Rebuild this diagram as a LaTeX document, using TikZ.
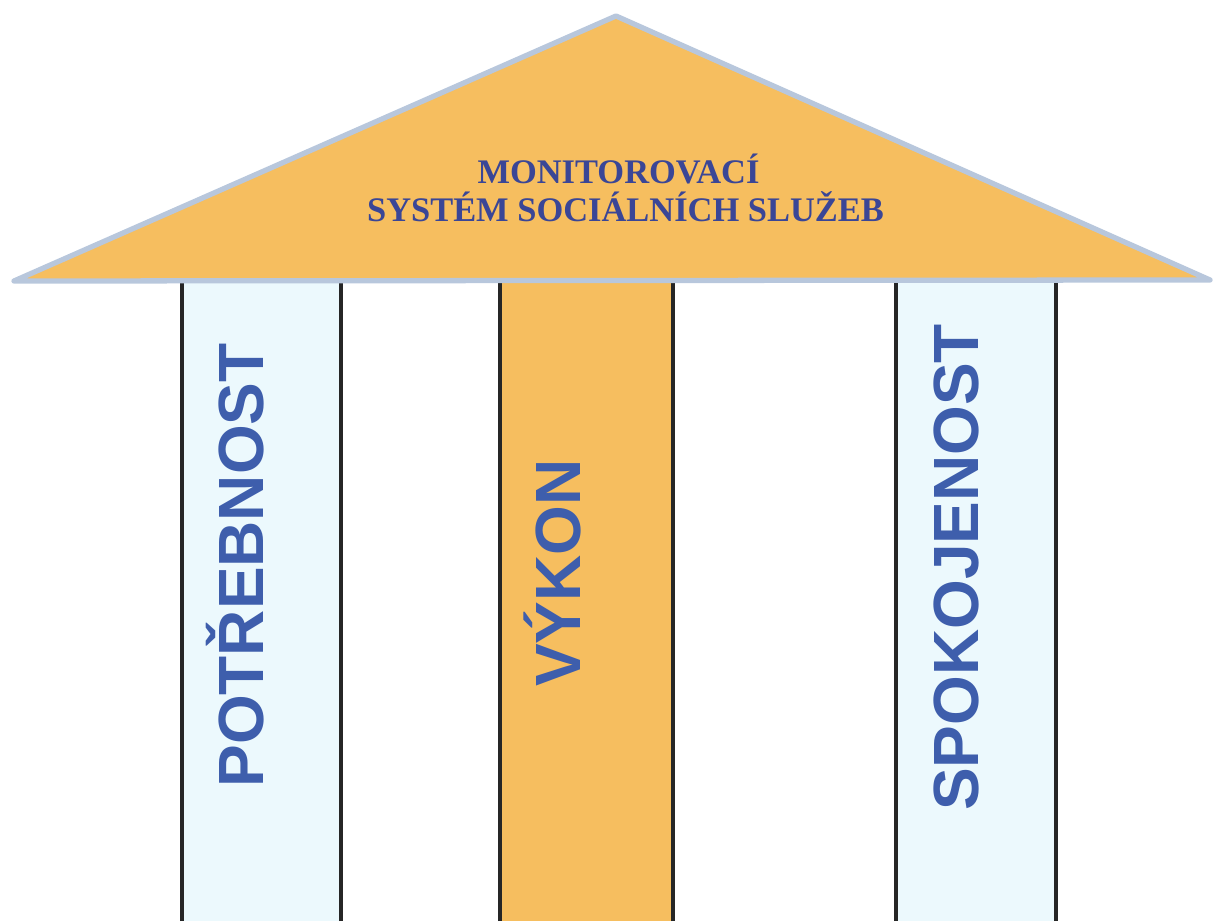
\documentclass[tikz,border=0pt]{standalone}
\usepackage{fontspec}
\setmainfont{Liberation Serif}
\newfontfamily\sansbold{Liberation Sans}
\usetikzlibrary{shapes,arrows,positioning}
\definecolor{roofcol}{RGB}{246,190,95}
\definecolor{edgecol}{RGB}{184,199,220}
\definecolor{palecol}{RGB}{236,249,253}
\definecolor{inkcol}{RGB}{62,94,172}
\definecolor{titlecol}{RGB}{58,70,150}
\begin{document}
\begin{tikzpicture}[pillarstyle/.style={line width=1pt,black!85},
  wordstyle/.style={rotate=90,anchor=base,text=inkcol,font=\sansbold\bfseries\fontsize{18.2}{20}\selectfont},
  titlestyle/.style={anchor=base,text=titlecol,font=\bfseries\fontsize{9.8}{11}\selectfont}]
\useasboundingbox (0,0) rectangle (12.16,9.21);
\fill [palecol] (1.82,0) rectangle (3.41,6.4) ;
\fill [roofcol] (5.00,0) rectangle (6.73,6.4) ;
\fill [palecol] (8.96,0) rectangle (10.56,6.4) ;
\draw [pillarstyle] (1.82,0)--(1.82,6.4) ;
\draw [pillarstyle] (3.41,0)--(3.41,6.4) ;
\draw [pillarstyle] (5.00,0)--(5.00,6.4) ;
\draw [pillarstyle] (6.73,0)--(6.73,6.4) ;
\draw [pillarstyle] (8.96,0)--(8.96,6.4) ;
\draw [pillarstyle] (10.56,0)--(10.56,6.4) ;
\draw [edgecol, line width=1.5pt, fill=roofcol, line join=round] (0.14,6.40)--(6.16,9.05)--(12.10,6.41)--cycle ;
       \node [titlestyle]  (title1) at (6.185,7.37) {MONITOROVACÍ};
       \node [titlestyle]  (title2) at (6.255,6.99) {SYSTÉM SOCIÁLNÍCH SLUŽEB};
       \node [wordstyle]  (need) at (2.63,3.555) {POTŘEBNOST};
       \node [wordstyle]  (work) at (5.80,3.48) {VÝKON};
       \node [wordstyle]  (happy) at (9.78,3.535) {SPOKOJENOST};
\end{tikzpicture}
\end{document}
